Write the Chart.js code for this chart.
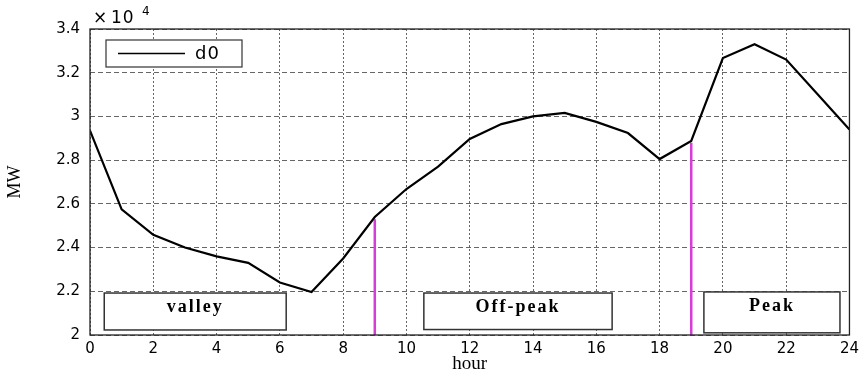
<!DOCTYPE html>
<html>
<head>
<meta charset="utf-8">
<script src="https://cdn.jsdelivr.net/npm/chart.js@4.4.1/dist/chart.umd.min.js"></script>
<style>
  html, body { margin: 0; padding: 0; background: #fff; }
  #wrap { width: 864px; height: 377px; }
</style>
</head>
<body>
<div id="wrap"><canvas id="loadChart"></canvas></div>
<script>
// hourly load curve, MW
const hours = [0, 1, 2, 3, 4, 5, 6, 7, 8, 9, 10, 11, 12, 13, 14, 15, 16, 17, 18, 19, 20, 21, 22, 23, 24];
const load = [29350, 25750, 24580, 24000, 23600, 23300, 22400, 21970, 23500, 25400, 26680, 27700,
              28970, 29650, 30000, 30160, 29750, 29240, 28050, 28880, 32670, 33300, 32600, 31000, 29400];
const seriesName = 'd0';

// period boundaries (hour) and the load where each marker stops
const boundaryHours = [9, 19];
const boundaryTops = [25300, 28800];

// period names shown in the boxes
const periodNames = ['valley', 'Off-peak', 'Peak'];

// axis tick labels
const xTickLabels = ['0', '2', '4', '6', '8', '10', '12', '14', '16', '18', '20', '22', '24'];
const yTickLabels = ['2', '2.2', '2.4', '2.6', '2.8', '3', '3.2', '3.4'];

const TICK_FONT = { family: 'DejaVu Sans', size: 15 };
const SERIF = '"Liberation Serif", "Times New Roman", serif';

// boxes behind the curve with the period names (ranges in axis units)
const periodBoxes = {
  id: 'periodBoxes',
  beforeDatasetsDraw(chart, args, opts) {
    const { ctx, scales: { x, y } } = chart;
    ctx.save();
    opts.boxes.forEach((b, i) => {
      const left = x.getPixelForValue(b.from), right = x.getPixelForValue(b.to);
      const top = y.getPixelForValue(b.high), bottom = y.getPixelForValue(b.low);
      ctx.fillStyle = '#fff';
      ctx.fillRect(left, top, right - left, bottom - top);
      ctx.strokeStyle = '#333';
      ctx.lineWidth = 1.5;
      ctx.strokeRect(left, top, right - left, bottom - top);
      ctx.fillStyle = '#000';
      ctx.font = 'bold 18px ' + SERIF;
      ctx.letterSpacing = '2px';
      ctx.textAlign = 'center';
      ctx.textBaseline = 'middle';
      ctx.fillText(periodNames[i], (left + right) / 2, top + 14);
    });
    ctx.restore();
  }
};

// box frame, legend and the axis multiplier
const decorations = {
  id: 'decorations',
  afterDatasetsDraw(chart) {
    const { ctx, chartArea: a } = chart;
    ctx.save();
    ctx.strokeStyle = '#222';
    ctx.lineWidth = 1.3;
    ctx.strokeRect(a.left, a.top, a.right - a.left, a.bottom - a.top);

    // legend
    const lx = a.left + 16, ly = a.top + 11;
    ctx.fillStyle = '#fff';
    ctx.fillRect(lx, ly, 136, 27);
    ctx.strokeStyle = '#333';
    ctx.lineWidth = 1.2;
    ctx.strokeRect(lx, ly, 136, 27);
    ctx.strokeStyle = '#000';
    ctx.lineWidth = 1.5;
    ctx.beginPath();
    ctx.moveTo(lx + 12, ly + 13.5);
    ctx.lineTo(lx + 79, ly + 13.5);
    ctx.stroke();
    ctx.fillStyle = '#000';
    ctx.font = '18px "DejaVu Sans"';
    ctx.letterSpacing = '1px';
    ctx.textBaseline = 'middle';
    ctx.fillText(chart.data.datasets[0].label, lx + 89, ly + 14);

    // x 10^4
    ctx.font = '17px "DejaVu Sans"';
    ctx.fillText('\u00d7', a.left + 3, a.top - 10);
    ctx.fillText('10', a.left + 21, a.top - 10);
    ctx.font = '12px "DejaVu Sans"';
    ctx.letterSpacing = '0px';
    ctx.fillText('4', a.left + 52, a.top - 17);
    ctx.restore();
  }
};

const datasets = [{
  label: seriesName,
  data: hours.map((h, i) => ({ x: h, y: load[i] })),
  borderColor: '#000',
  borderWidth: 2.2,
  pointRadius: 0,
  tension: 0
}];
boundaryHours.forEach((h, i) => {
  datasets.push({
    label: 'boundary ' + h,
    data: [{ x: h, y: 20000 }, { x: h, y: boundaryTops[i] }],
    borderColor: '#d63cd6',
    borderWidth: 2.5,
    pointRadius: 0
  });
});

new Chart(document.getElementById('loadChart'), {
  type: 'line',
  data: { datasets },
  options: {
    responsive: true,
    maintainAspectRatio: false,
    animation: false,
    layout: { padding: { top: 29, right: 13, left: 0, bottom: 0 } },
    plugins: {
      legend: { display: false },
      tooltip: { enabled: false },
      periodBoxes: {
        boxes: [
          { from: 0.45, to: 6.2, low: 20230, high: 21920 },
          { from: 10.55, to: 16.5, low: 20250, high: 21920 },
          { from: 19.4, to: 23.7, low: 20100, high: 21970 }
        ]
      }
    },
    scales: {
      x: {
        type: 'linear',
        min: 0, max: 24,
        afterFit: s => { s.height = 42; },
        ticks: {
          stepSize: 2,
          padding: 5,
          color: '#000',
          font: TICK_FONT,
          maxRotation: 0,
          callback: (v, i) => xTickLabels[i]
        },
        grid: { color: '#666', lineWidth: 1, drawTicks: false },
        border: { display: false, dash: [2, 2] },
        title: { display: true, text: 'hour', color: '#000', font: { family: SERIF, size: 19 }, padding: { top: 0, bottom: 2 } }
      },
      y: {
        min: 20000, max: 34000,
        afterFit: s => { s.width = 90; },
        ticks: {
          stepSize: 2000,
          padding: 10,
          color: '#000',
          font: TICK_FONT,
          callback: (v, i) => yTickLabels[i]
        },
        grid: { color: '#666', lineWidth: 1, drawTicks: false },
        border: { display: false, dash: [5, 3] },
        title: { display: true, text: 'MW', color: '#000', font: { family: SERIF, size: 18 }, padding: { top: 4, bottom: 0 } }
      }
    }
  },
  plugins: [periodBoxes, decorations]
});
</script>
</body>
</html>
